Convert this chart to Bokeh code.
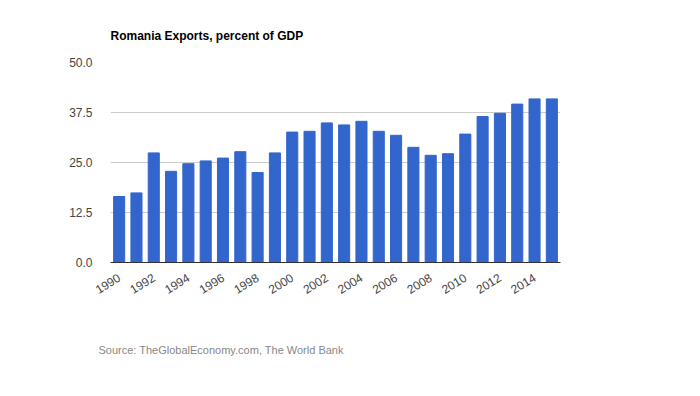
from bokeh.plotting import figure
from bokeh.models import Title, FixedTicker, Range1d, CustomJSTickFormatter
from bokeh.embed import file_html
from bokeh.resources import INLINE

years = list(range(1990, 2016))
exports = [16.5, 17.4, 27.4, 22.8, 24.7, 25.4, 26.1, 27.7, 22.5, 27.4,
           32.6, 32.8, 34.9, 34.4, 35.3, 32.8, 31.8, 28.8, 26.8, 27.2,
           32.1, 36.5, 37.3, 39.6, 40.9, 40.9]
y_ticks = [0, 12.5, 25, 37.5, 50]
x_ticks = list(range(1990, 2015, 2))

p = figure(width=684, height=396, output_backend="svg", toolbar_location=None,
           x_range=Range1d(1989.5, 2015.5), y_range=Range1d(0, 50),
           min_border_left=110, min_border_right=124,
           min_border_top=62, min_border_bottom=134)
p.outline_line_color = None
p.background_fill_color = "white"
p.border_fill_color = "white"

p.vbar(x=years, top=exports, width=0.64, color="#3366CC")

p.xgrid.grid_line_color = None
p.ygrid.grid_line_color = "#cccccc"
p.ygrid.ticker = FixedTicker(ticks=y_ticks)

p.yaxis.ticker = FixedTicker(ticks=y_ticks)
p.yaxis.formatter = CustomJSTickFormatter(code="return tick.toFixed(1);")
p.yaxis.axis_line_color = None
p.yaxis.major_tick_line_color = None
p.yaxis.minor_tick_line_color = None
p.yaxis.major_label_standoff = 12
p.yaxis.major_label_text_font = "Liberation Sans"
p.yaxis.major_label_text_font_size = "12px"
p.yaxis.major_label_text_color = "#444444"

p.xaxis.ticker = FixedTicker(ticks=x_ticks)
p.xaxis.axis_line_color = "#333333"
p.xaxis.major_tick_line_color = None
p.xaxis.minor_tick_line_color = None
p.xaxis.major_label_orientation = 0.55
p.xaxis.major_label_standoff = 8
p.xaxis.major_label_text_font = "Liberation Sans"
p.xaxis.major_label_text_font_size = "12px"
p.xaxis.major_label_text_color = "#444444"

p.title.text = "Romania Exports, percent of GDP"
p.title.align = "left"
p.title.text_font = "Liberation Sans"
p.title.text_font_size = "12px"
p.title.text_font_style = "bold"
p.title.text_color = "#000000"
p.title.standoff = 40

src = Title(text="Source: TheGlobalEconomy.com, The World Bank", align="left",
            text_font="Liberation Sans", text_font_size="11px",
            text_font_style="normal", text_color="#888888",
            offset=-12, standoff=81)
p.add_layout(src, "below")

open("out.html", "w").write(file_html(p, INLINE))
